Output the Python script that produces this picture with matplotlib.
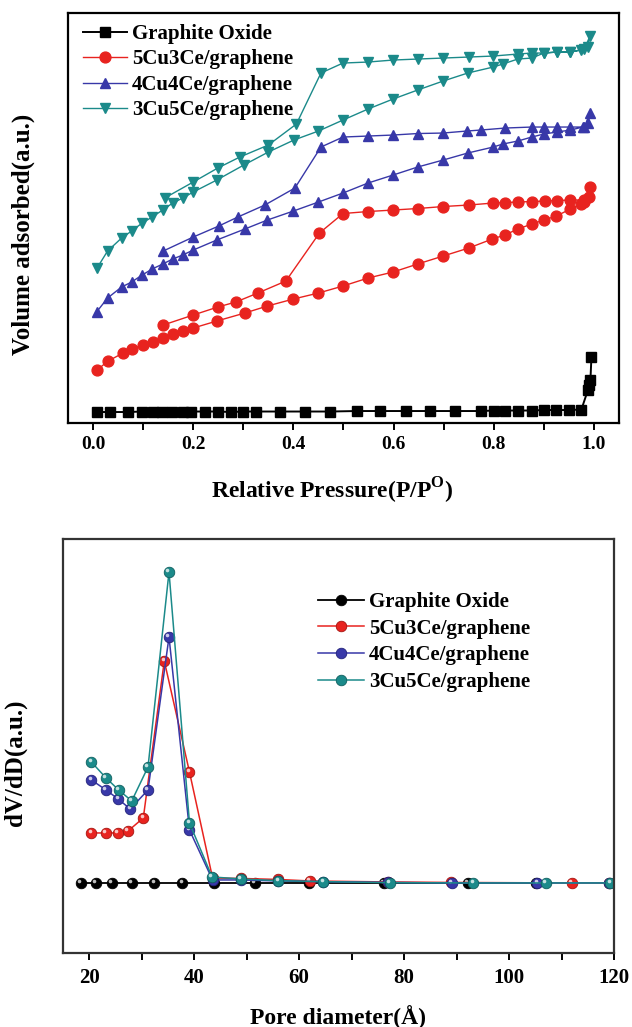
import numpy as np
import matplotlib
matplotlib.use("Agg")
import matplotlib.pyplot as plt
import matplotlib.transforms as mtransforms

plt.rcParams['font.family'] = ['Liberation Serif', 'DejaVu Serif']
plt.rcParams['font.weight'] = 'bold'
plt.rcParams['mathtext.fontset'] = 'custom'
plt.rcParams['mathtext.bf'] = 'Liberation Serif:bold'
plt.rcParams['mathtext.rm'] = 'Liberation Serif:bold'

# ---------------- N2 isotherms (adsorption then desorption), a.u. ----------------
go_p = [0.008, 0.034, 0.07, 0.098, 0.119, 0.138, 0.158, 0.179, 0.196, 0.224, 0.249, 0.275,
        0.30, 0.326, 0.373, 0.424, 0.473, 0.526, 0.573, 0.624, 0.673, 0.723, 0.774, 0.80,
        0.823, 0.848, 0.876, 0.90, 0.925, 0.95, 0.975, 0.988, 0.991, 0.993, 0.995]
go_v = [11, 11, 11, 11.5, 11.5, 11, 11.5, 11, 11.5, 11.5, 11.5, 11, 11.5, 11.5, 11.5, 11.5,
        11.5, 12, 12, 12, 12, 12, 12, 12.5, 12.5, 12.5, 12.5, 13, 13, 13, 13.5, 33, 38, 43, 66]

cu53_p = [0.008, 0.030, 0.060, 0.077, 0.10, 0.119, 0.140, 0.159, 0.179, 0.20, 0.247, 0.303,
          0.348, 0.40, 0.45, 0.499, 0.549, 0.599, 0.648, 0.699, 0.75, 0.797, 0.822, 0.848,
          0.876, 0.90, 0.925, 0.953, 0.974, 0.981, 0.990, 0.992,
          0.981, 0.953, 0.926, 0.903, 0.876, 0.848, 0.823, 0.799, 0.75, 0.699, 0.648, 0.599,
          0.549, 0.499, 0.452, 0.385, 0.329, 0.285, 0.249, 0.20, 0.14]
cu53_v = [53, 62, 70, 74, 78, 81, 85, 89, 92, 95, 102, 110, 117, 124, 130, 137, 145, 151,
          159, 167, 175, 184, 188, 194, 199, 203, 207, 214, 219, 221, 226, 236,
          223, 223, 222.5, 222, 221.5, 221, 220.5, 220, 218, 216.5, 214.5, 213, 211.5, 209.5,
          190, 142, 130, 121, 116, 108, 98]

cu44_p = [0.007, 0.029, 0.057, 0.077, 0.098, 0.118, 0.139, 0.159, 0.179, 0.20, 0.247, 0.303,
          0.348, 0.40, 0.45, 0.499, 0.549, 0.599, 0.648, 0.699, 0.748, 0.799, 0.818, 0.848,
          0.876, 0.90, 0.926, 0.953, 0.978, 0.988, 0.992,
          0.981, 0.953, 0.926, 0.90, 0.876, 0.823, 0.774, 0.746, 0.699, 0.648, 0.599, 0.549,
          0.499, 0.455, 0.403, 0.343, 0.289, 0.251, 0.20, 0.14]
cu44_v = [111, 125, 136, 141, 148, 154, 159, 164, 168, 173, 183, 194, 203, 212, 221, 230,
          240, 248, 256, 263, 270, 276, 279, 282, 286, 289, 291, 293, 296, 300, 310,
          296, 296, 296, 296, 296, 295, 293, 292, 290, 289.5, 288, 287, 286, 276, 235, 218,
          206, 197, 186, 172]

cu35_p = [0.008, 0.029, 0.057, 0.077, 0.098, 0.118, 0.139, 0.159, 0.179, 0.20, 0.247, 0.301,
          0.35, 0.401, 0.45, 0.499, 0.549, 0.599, 0.648, 0.699, 0.748, 0.799, 0.818, 0.848,
          0.876, 0.90, 0.926, 0.953, 0.974, 0.988, 0.992,
          0.981, 0.953, 0.926, 0.90, 0.876, 0.848, 0.799, 0.75, 0.699, 0.648, 0.599, 0.549,
          0.499, 0.455, 0.406, 0.35, 0.293, 0.249, 0.20, 0.143]
cu35_v = [155, 172, 185, 192, 200, 206, 213, 220, 225, 231, 243, 258, 271, 283, 292, 303,
          314, 324, 333, 342, 350, 356, 359, 364, 365, 370, 371, 371, 373, 376, 387,
          374, 371, 371, 370, 370, 369, 367, 366, 365, 364, 363, 361, 360, 350, 299, 278,
          266, 255, 241, 225]

# ---------------- pore size distribution, a.u. ----------------
go_d = [18.4, 21.3, 24.3, 28.1, 32.4, 37.7, 43.7, 51.5, 61.9, 76.1, 92.1, 105.1]
go_dv = [0, 0, 0, 0, 0, 0, 0, 0, 0, 0, 0, 0]

cu53_d = [20.4, 23.2, 25.4, 27.4, 30.3, 34.3, 39.1, 43.5, 48.9, 56.0, 62.0, 77.0, 89.0, 112.0, 119.0]
cu53_dv = [50, 50, 50, 52, 65, 222, 111, 5, 4.5, 3.5, 2, 1, 0.5, 0, 0]

cu44_d = [20.4, 23.2, 25.5, 27.8, 31.2, 35.2, 39.1, 43.5, 48.9, 56.0, 64.6, 77.0, 89.1, 105.4, 119.0]
cu44_dv = [103, 93, 84, 74, 93, 246, 53, 3, 3, 2, 1.3, 0.5, 0, 0, 0]

cu35_d = [20.4, 23.2, 25.6, 28.1, 31.2, 35.2, 39.1, 43.4, 48.9, 56.0, 64.6, 77.3, 93.2, 107.0, 119.3]
cu35_dv = [121, 105, 93, 82, 116, 311, 60, 6, 4, 2.3, 1.3, 0.3, 0, 0, 0]

labels = ["Graphite Oxide", "5Cu3Ce/graphene", "4Cu4Ce/graphene", "3Cu5Ce/graphene"]
colors = ["black", "#e8231f", "#3838a8", "#1b8a8a"]

fig = plt.figure(figsize=(6.32, 10.27), dpi=100)

# ---------- top: isotherms ----------
ax1 = fig.add_axes([0.1076, 0.5881, 0.8718, 0.3992])
iso = [(go_p, go_v, 's'), (cu53_p, cu53_v, 'o'), (cu44_p, cu44_v, '^'), (cu35_p, cu35_v, 'v')]
for (p, v, m), lab, c in zip(iso, labels, colors):
    ms = 6.8 if m == 's' else 7.8
    ax1.plot(p, v, marker=m, color=c, ms=ms, lw=1.0 if c != "black" else 1.4,
             mec=c, mfc=c, label=lab)

ax1.set_xlim(-0.05, 1.05)
ax1.set_ylim(0, 410)
ax1.set_xticks(np.arange(0, 1.01, 0.2))
ax1.set_xticks(np.arange(0.1, 1.0, 0.2), minor=True)
ax1.set_xticklabels(["0.0", "0.2", "0.4", "0.6", "0.8", "1.0"])
ax1.set_yticks([])
ax1.tick_params(axis='x', which='both', direction='out', length=5, width=1.4, labelsize=14, pad=4)
for s in ax1.spines.values():
    s.set_linewidth(1.6)
ax1.set_xlabel(r"Relative Pressure(P/P$^{\mathbf{O}}$)", fontsize=17, fontweight='bold')
ax1.xaxis.set_label_coords(0.48, -0.128)
ax1.set_ylabel("Volume adsorbed(a.u.)", fontsize=18, fontweight='bold')
ax1.yaxis.set_label_coords(-0.06, 0.46)
ax1.legend(loc='upper left', bbox_to_anchor=(83 / 632, 1 - 24 / 1027), bbox_transform=fig.transFigure,
           frameon=False, handlelength=2.1, handletextpad=0.25, labelspacing=0.26,
           borderpad=0, borderaxespad=0, prop={'weight': 'bold', 'size': 15})

# ---------- bottom: pore size distribution ----------
ax2 = fig.add_axes([0.0997, 0.0721, 0.8718, 0.4031])
psd = [(go_d, go_dv), (cu53_d, cu53_dv), (cu44_d, cu44_dv), (cu35_d, cu35_dv)]
hl = mtransforms.offset_copy(ax2.transData, fig=fig, x=-1.6, y=1.6, units='dots')
edge = ["black", "#a51410", "#22227a", "#0f5f5f"]
for (d, dv), lab, c, ec in zip(psd, labels, colors, edge):
    ax2.plot(d, dv, marker='o', color=c, ms=7.6, lw=1.3 if c == "black" else 1.1,
             mfc=c, mec=ec, mew=0.6, label=lab)
    ax2.plot(d, dv, ls='none', marker='o', ms=2.6, mfc='white', mec='none', alpha=0.75, transform=hl)

ax2.set_xlim(15, 120)
ax2.set_ylim(-70, 344)
ax2.set_xticks([20, 40, 60, 80, 100, 120])
ax2.set_xticks([30, 50, 70, 90, 110], minor=True)
ax2.set_yticks([])
ax2.tick_params(axis='x', which='both', direction='out', length=5, width=1.4, labelsize=15, pad=6)
for s in ax2.spines.values():
    s.set_linewidth(1.6)
    s.set_color('#333333')
ax2.set_xlabel("Pore diameter(Å)", fontsize=17, fontweight='bold', labelpad=12)
ax2.set_ylabel("dV/dD(a.u.)", fontsize=18, fontweight='bold')
ax2.yaxis.set_label_coords(-0.066, 0.46)
ax2.legend(loc='upper left', bbox_to_anchor=(318 / 632, 1 - 592 / 1027), bbox_transform=fig.transFigure,
           frameon=False, handlelength=2.2, handletextpad=0.25, labelspacing=0.32,
           borderpad=0, borderaxespad=0, prop={'weight': 'bold', 'size': 15})

fig.savefig("out.png", dpi=100)
